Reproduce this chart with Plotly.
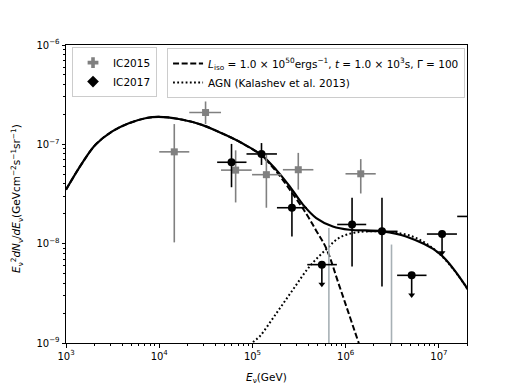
import numpy as np
import plotly.graph_objects as go

# IC2015 measured bins (gray squares)
ic15_e = [1.45e4, 3.14e4, 6.6e4, 1.41e5, 3.1e5, 1.45e6]
ic15_e_lo = [1.0e4, 2.1e4, 4.6e4, 9.9e4, 2.12e5, 9.95e5]
ic15_e_hi = [2.1e4, 4.6e4, 9.8e4, 2.05e5, 4.5e5, 2.1e6]
ic15_f = [8.4e-8, 2.09e-7, 5.5e-8, 4.95e-8, 5.55e-8, 5.05e-8]
ic15_f_lo = [1.03e-8, 1.6e-7, 2.6e-8, 2.3e-8, 3.5e-8, 3.2e-8]
ic15_f_hi = [1.6e-7, 2.7e-7, 8.7e-8, 7.9e-8, 8.2e-8, 7.1e-8]
# IC2015 bins with zero central value (upper error only)
ic15_zero_e = [6.6e5, 3.1e6]
ic15_zero_hi = [1.44e-8, 9.8e-9]

# IC2017 measured bins (black circles)
ic17_e = [5.96e4, 1.25e5, 2.65e5, 1.17e6, 2.45e6]
ic17_e_lo = [4.18e4, 8.63e4, 1.83e5, 8.1e5, 1.66e6]
ic17_e_hi = [8.63e4, 1.83e5, 3.84e5, 1.66e6, 3.6e6]
ic17_f = [6.6e-8, 8.0e-8, 2.3e-8, 1.56e-8, 1.33e-8]
ic17_f_lo = [3.7e-8, 6.2e-8, 1.18e-8, 5.9e-9, 3.7e-9]
ic17_f_hi = [1.01e-7, 1.03e-7, 3.5e-8, 2.9e-8, 2.9e-8]
# IC2017 upper limits
ul_e = [5.55e5, 5.1e6, 1.08e7, 2.3e7]
ul_e_lo = [3.87e5, 3.56e6, 7.43e6, 1.57e7]
ul_e_hi = [8.04e5, 7.36e6, 1.56e7, 3.3e7]
ul_f = [6.15e-9, 4.8e-9, 1.25e-8, 1.88e-8]
ul_tip = [3.9e-9, 3.05e-9, 8.1e-9, 1.2e-8]

# model curves
tot_e = [1e3, 1.49e3, 2.07e3, 3.13e3, 4.72e3, 7.1e3, 9.9e3, 1.62e4, 2.87e4, 4.7e4, 7.69e4,
         1.25e5, 1.81e5, 2.51e5, 3.48e5, 4.83e5, 7.28e5, 1.1e6, 2.49e6, 4.44e6, 1.0e7, 1.95e7, 2.2e7]
tot_f = [3.5e-8, 6.47e-8, 9.9e-8, 1.35e-7, 1.63e-7, 1.83e-7, 1.89e-7, 1.8e-7, 1.57e-7, 1.29e-7, 1.03e-7,
         7.8e-8, 5.5e-8, 3.77e-8, 2.47e-8, 1.81e-8, 1.49e-8, 1.38e-8, 1.33e-8, 1.18e-8, 8.05e-9, 3.7e-9, 3.0e-9]
grb_e = [1e3, 1.49e3, 2.07e3, 3.13e3, 4.72e3, 7.1e3, 9.9e3, 1.62e4, 2.87e4, 4.7e4, 7.69e4,
         1.25e5, 1.81e5, 2.72e5, 3.78e5, 4.83e5, 6.18e5, 8.6e5, 1.38e6, 1.5e6]
grb_f = [3.5e-8, 6.47e-8, 9.9e-8, 1.35e-7, 1.63e-7, 1.83e-7, 1.89e-7, 1.8e-7, 1.57e-7, 1.29e-7, 1.03e-7,
         7.7e-8, 5.3e-8, 3.15e-8, 2.0e-8, 1.35e-8, 9.0e-9, 3.7e-9, 1.0e-9, 8.0e-10]
agn_e = [9.5e4, 1.0e5, 1.2e5, 1.81e5, 2.72e5, 4.1e5, 6.2e5, 8.6e5, 1.3e6, 2.49e6,
         5.2e6, 1.0e7, 1.95e7, 2.2e7]
agn_f = [8.5e-10, 1.0e-9, 1.17e-9, 2.0e-9, 3.45e-9, 5.9e-9, 8.8e-9, 1.15e-8, 1.3e-8, 1.32e-8,
         1.18e-8, 8.0e-9, 3.7e-9, 3.0e-9]

FONT = "DejaVu Sans"
GRAY = "#808080"

def asym(c, lo, hi):
    c, lo, hi = np.array(c), np.array(lo), np.array(hi)
    return hi - c, c - lo

fig = go.Figure()

fig.add_trace(go.Scatter(x=tot_e, y=tot_f, mode="lines", line=dict(color="black", width=2.2, shape="spline"),
                         showlegend=False))
fig.add_trace(go.Scatter(x=grb_e, y=grb_f, mode="lines", legend="legend2",
                         line=dict(color="black", width=2, dash="6px,2.6px", shape="spline"),
                         name="<i>L</i><sub>iso</sub> = 1.0 × 10<sup>50</sup>ergs<sup>−1</sup>, "
                              "<i>t</i> = 1.0 × 10<sup>3</sup>s, Γ = 100"))
fig.add_trace(go.Scatter(x=agn_e, y=agn_f, mode="lines", legend="legend2",
                         line=dict(color="black", width=2, dash="1.8px,2.4px", shape="spline"),
                         name="AGN (Kalashev et al. 2013)"))

# IC2015 zero bins: vertical upper error bars only
zx, zy = [], []
for e, hi in zip(ic15_zero_e, ic15_zero_hi):
    zx += [e, e, None]
    zy += [1e-10, hi, None]
fig.add_trace(go.Scatter(x=zx, y=zy, mode="lines", line=dict(color="#a7b0b5", width=1.6), showlegend=False))

# IC2015 points
yp, ym = asym(ic15_f, ic15_f_lo, ic15_f_hi)
xp, xm = asym(ic15_e, ic15_e_lo, ic15_e_hi)
fig.add_trace(go.Scatter(x=ic15_e, y=ic15_f, mode="markers", showlegend=False,
                         marker=dict(symbol="square", size=7, color=GRAY),
                         error_y=dict(type="data", symmetric=False, array=yp, arrayminus=ym,
                                      color=GRAY, thickness=1.6, width=0),
                         error_x=dict(type="data", symmetric=False, array=xp, arrayminus=xm,
                                      color=GRAY, thickness=1.6, width=0)))

# IC2017 points
yp, ym = asym(ic17_f, ic17_f_lo, ic17_f_hi)
xp, xm = asym(ic17_e, ic17_e_lo, ic17_e_hi)
fig.add_trace(go.Scatter(x=ic17_e, y=ic17_f, mode="markers", showlegend=False,
                         marker=dict(symbol="circle", size=8, color="black"),
                         error_y=dict(type="data", symmetric=False, array=yp, arrayminus=ym,
                                      color="black", thickness=1.6, width=0),
                         error_x=dict(type="data", symmetric=False, array=xp, arrayminus=xm,
                                      color="black", thickness=1.6, width=0)))

# IC2017 upper limits
xp, xm = asym(ul_e, ul_e_lo, ul_e_hi)
fig.add_trace(go.Scatter(x=ul_e, y=ul_f, mode="markers", showlegend=False,
                         marker=dict(symbol="circle", size=8, color="black"),
                         error_y=dict(type="data", symmetric=False, array=[0] * len(ul_f),
                                      arrayminus=np.array(ul_f) - np.array(ul_tip),
                                      color="black", thickness=1.6, width=0),
                         error_x=dict(type="data", symmetric=False, array=xp, arrayminus=xm,
                                      color="black", thickness=1.6, width=0)))
fig.add_trace(go.Scatter(x=ul_e, y=ul_tip, mode="markers", showlegend=False,
                         marker=dict(symbol="triangle-down", size=6, color="black")))

# legend-only handles
fig.add_trace(go.Scatter(x=[None], y=[None], mode="markers", name="IC2015",
                         marker=dict(symbol="cross", size=9, color=GRAY)))
fig.add_trace(go.Scatter(x=[None], y=[None], mode="markers", name="IC2017",
                         marker=dict(symbol="diamond", size=9, color="black")))

minor_x = [k * 10 ** d for d in range(3, 8) for k in range(2, 10)]
minor_y = [k * 10.0 ** d for d in range(-9, -6) for k in range(2, 10)]

axis_common = dict(type="log", showgrid=False, zeroline=False, showline=True, linecolor="black",
                   linewidth=1, mirror=True, ticks="outside", ticklen=3.5, tickwidth=0.8,
                   tickcolor="black", automargin=False,
                   tickfont=dict(family=FONT, size=10, color="black"))

fig.update_xaxes(**axis_common, range=[3, np.log10(2e7)],
                 tickvals=[1e3, 1e4, 1e5, 1e6, 1e7],
                 ticktext=["10<sup>3</sup>", "10<sup>4</sup>", "10<sup>5</sup>", "10<sup>6</sup>", "10<sup>7</sup>"],
                 minor=dict(tickvals=minor_x, ticks="outside", ticklen=2, tickwidth=0.6, tickcolor="black"))
fig.update_yaxes(**axis_common, range=[-9, -6],
                 tickvals=[1e-9, 1e-8, 1e-7, 1e-6],
                 ticktext=["10<sup>−9</sup>", "10<sup>−8</sup>", "10<sup>−7</sup>", "10<sup>−6</sup>"],
                 minor=dict(tickvals=minor_y, ticks="outside", ticklen=2, tickwidth=0.6, tickcolor="black"))

# axis titles as annotations for exact placement
title_font = dict(family=FONT, size=10.5, color="black")
fig.add_annotation(text="<i>E</i><sub>ν</sub>(GeV)", xref="paper", yref="paper", x=0.5, y=0,
                   xanchor="center", yanchor="middle", yshift=-35, showarrow=False, font=title_font)
fig.add_annotation(text="<i>E</i><sub>ν</sub><sup>2</sup><i>dN</i><sub>ν</sub>/<i>dE</i><sub>ν</sub>"
                        "(GeVcm<sup>−2</sup>s<sup>−1</sup>sr<sup>−1</sup>)",
                   xref="paper", yref="paper", x=0, y=0.5, xanchor="center", yanchor="middle",
                   xshift=-49, yshift=-5, textangle=-90, showarrow=False, font=title_font)

legend_common = dict(bgcolor="rgba(255,255,255,0.8)", bordercolor="#cccccc", borderwidth=1,
                     font=dict(family=FONT, size=10.5, color="black"), xanchor="left", yanchor="top",
                     itemwidth=30, tracegroupgap=0)

# the page body adds an 8px offset, so the figure is sized to fit the remaining window
fig.update_layout(
    width=510, height=380,
    margin=dict(l=58, r=51, t=37, b=45),
    paper_bgcolor="white", plot_bgcolor="white",
    font=dict(family=FONT, size=10, color="black"),
    legend=dict(**legend_common, x=0.015, y=0.993),
    legend2=dict(**legend_common, x=0.252, y=0.99),
)

fig.write_html("out.html")
